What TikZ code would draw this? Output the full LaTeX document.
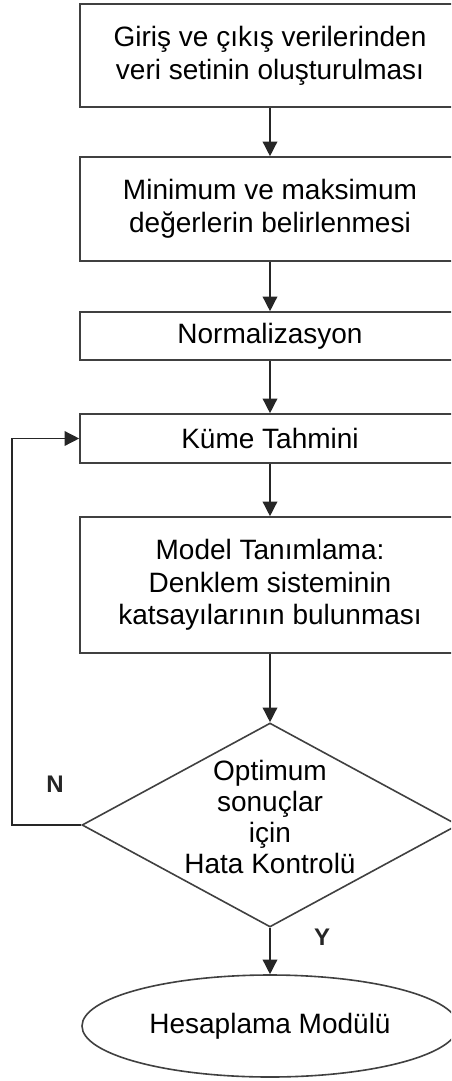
\documentclass[tikz,border=0pt]{standalone}
\usepackage{fontspec}
\setmainfont{Liberation Sans}
\usetikzlibrary{positioning, arrows.meta, shapes.geometric}

\begin{document}
\begin{tikzpicture}[x=0.75pt, y=-0.75pt,
    box/.style={draw=black!75, line width=1.2pt, fill=white, rectangle, minimum width=285pt,
      align=center, inner sep=0pt, font=\fontsize{21}{24.75}\selectfont},
    decision/.style={draw=black!75, line width=1.2pt, fill=white, diamond, minimum width=282pt,
      minimum height=153pt, inner sep=0pt},
    terminal/.style={draw=black!75, line width=1.2pt, fill=white, ellipse, minimum width=282pt,
      minimum height=76.5pt, inner sep=0pt, font=\fontsize{21}{24.75}\selectfont},
    flow/.style={-{Triangle[width=11pt,length=11pt]}, line width=1.1pt, black!85},
    tag/.style={font=\bfseries\fontsize{18}{22}\selectfont, text=black!85}]

    % Page frame (right side of the chart is cut off)
    \useasboundingbox (0,0) rectangle (451,1081);
    \clip (0,0) rectangle (451,1081);

    % Process steps
    \node[box, minimum height=77.25pt] (veri) at (270,55.5) {Giriş ve çıkış verilerinden\\veri setinin oluşturulması};
    \node[box, minimum height=78pt] (minmax) at (270,209) {Minimum ve maksimum\\değerlerin belirlenmesi};
    \node[box, minimum height=36pt] (norm) at (270,336) {Normalizasyon};
    \node[box, minimum height=36.75pt] (kume) at (270,438.5) {Küme Tahmini};
    \node[box, minimum height=102pt, font=\fontsize{21}{24.4}\selectfont] (model) at (270,585) {Model Tanımlama:\\Denklem sisteminin\\katsayılarının bulunması};

    % Decision and end
    \node[decision] (karar) at (270,825) {};
    \node[align=center, inner sep=0pt, font=\fontsize{21}{23.4}\selectfont] (karartext) at (270,817) {Optimum\\sonuçlar\\için\\Hata Kontrolü};
    \node[terminal] (sonuc) at (270,1026) {Hesaplama Modülü};

    % Arrows
    \draw[flow] (veri) -- (minmax);
    \draw[flow] (minmax) -- (norm);
    \draw[flow] (norm) -- (kume);
    \draw[flow] (kume) -- (model);
    \draw[flow] (model) -- (karar);
    \draw[flow] (karar) -- (sonuc);
    \draw[flow] (karar.west) -- ++(-69,0) |- (kume.west);

    % Branch labels
    \node[tag] (hayir) at (55,784) {N};
    \node[tag] (evet) at (322,937) {Y};
\end{tikzpicture}
\end{document}
